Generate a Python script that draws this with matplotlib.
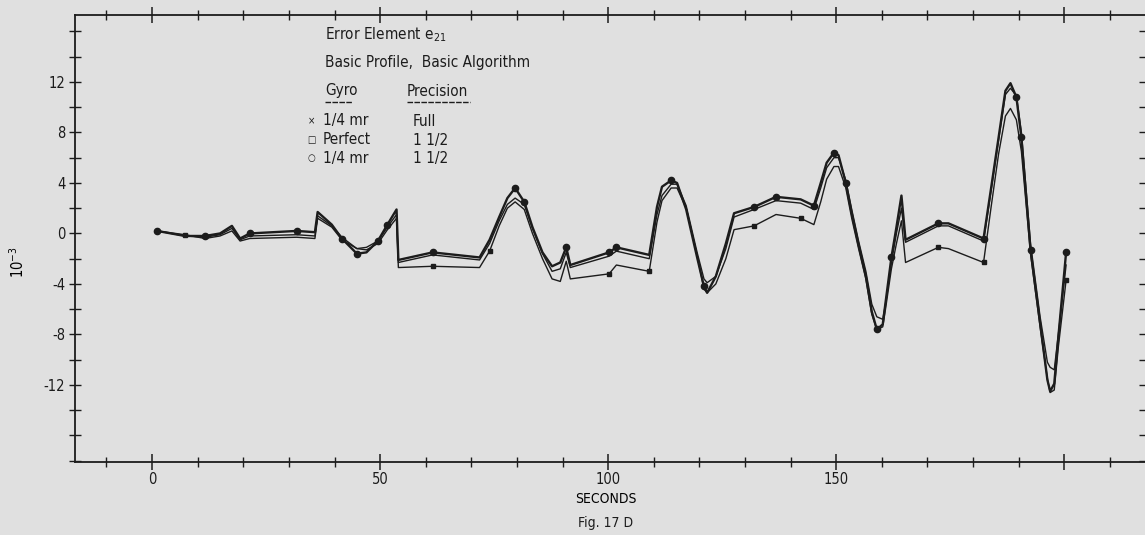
import matplotlib.pyplot as plt
from matplotlib.ticker import MultipleLocator, FixedLocator
from matplotlib.lines import Line2D

# tid (sekunder) och felelement e21 (10^-3)
t = [1.1, 7.2, 11.6, 14.9, 17.5, 19.3, 21.4, 31.7, 35.7, 36.3,
     39.4, 41.6, 44.9, 47.0, 49.5, 51.6, 53.6, 54.0, 61.5, 71.8,
     74.0, 76.1, 77.9, 79.6, 81.6, 83.4, 85.6, 87.7, 89.5, 90.8,
     91.7, 100.2, 101.8, 109.0, 110.7, 111.8, 113.8, 115.1, 117.1, 119.5,
     121.0, 121.7, 123.6, 125.8, 127.6, 132.0, 136.8, 142.2, 145.1, 146.6,
     147.9, 149.5, 150.5, 152.1, 153.4, 154.9, 156.5, 157.8, 158.9, 160.2,
     160.8, 162.1, 163.2, 164.3, 165.2, 172.4, 174.6, 182.3, 184.0, 185.6,
     187.1, 188.2, 189.5, 190.6, 192.6, 194.7, 196.3, 196.9, 197.8, 198.7,
     200.4]

e21_full = [0.2, -0.2, -0.2, 0.0, 0.6, -0.4, 0.0, 0.2, 0.1, 1.7,
            0.7, -0.4, -1.6, -1.5, -0.6, 0.7, 1.9, -2.1, -1.5, -1.9,
            -0.5, 1.3, 2.8, 3.6, 2.5, 0.5, -1.5, -2.6, -2.3, -1.1,
            -2.5, -1.5, -1.1, -1.7, 2.1, 3.7, 4.2, 4.0, 1.9, -1.9,
            -4.2, -4.7, -3.4, -0.8, 1.6, 2.1, 2.9, 2.7, 2.2, 4.0,
            5.6, 6.4, 6.2, 4.0, 1.6, -0.9, -3.4, -6.2, -7.6, -7.2,
            -5.5, -1.9, 0.5, 3.0, -0.5, 0.8, 0.8, -0.4, 3.7, 7.6,
            11.3, 11.9, 10.8, 7.6, -1.3, -7.1, -11.6, -12.5, -11.9, -8.2,
            -1.5]

e21_perfect = [0.2, -0.2, -0.3, -0.1, 0.4, -0.5, -0.2, -0.1, -0.2, 1.4,
               0.6, -0.3, -1.2, -1.1, -0.6, 0.5, 1.5, -2.3, -1.7, -2.1,
               -0.8, 1.0, 2.3, 2.8, 2.3, 0.4, -1.6, -3.0, -2.8, -1.5,
               -2.7, -1.8, -1.4, -2.0, 1.5, 3.0, 3.9, 3.9, 2.2, -1.5,
               -3.6, -3.9, -3.4, -1.2, 1.3, 1.9, 2.6, 2.4, 1.9, 3.6,
               5.2, 6.0, 6.0, 4.2, 1.9, -0.6, -3.0, -5.6, -6.6, -6.8,
               -5.6, -2.3, 0.0, 2.0, -0.7, 0.6, 0.6, -0.6, 3.5, 7.4,
               11.0, 11.5, 10.9, 8.0, -0.8, -6.6, -10.2, -10.6, -10.8, -8.0,
               -2.5]

e21_quarter = [0.2, -0.1, -0.4, -0.2, 0.2, -0.6, -0.4, -0.3, -0.4, 1.2,
               0.5, -0.5, -1.2, -1.3, -0.8, 0.3, 1.2, -2.7, -2.6, -2.7,
               -1.4, 0.6, 2.0, 2.5, 1.9, 0.0, -2.0, -3.6, -3.8, -2.2,
               -3.6, -3.2, -2.5, -3.0, 0.9, 2.6, 3.6, 3.6, 2.0, -1.7,
               -4.4, -4.7, -4.0, -2.0, 0.3, 0.6, 1.5, 1.2, 0.7, 2.5,
               4.3, 5.3, 5.3, 3.6, 1.2, -1.2, -3.6, -6.4, -7.6, -7.4,
               -6.0, -2.8, -0.8, 1.0, -2.3, -1.1, -1.2, -2.3, 2.2, 6.3,
               9.3, 9.9, 9.0, 6.5, -1.6, -7.4, -11.5, -12.6, -12.4, -9.0,
               -3.7]

full_marks = [0, 2, 6, 7, 11, 12, 14, 15, 18, 23, 24, 29, 31, 32, 36, 40,
              45, 46, 48, 51, 53, 58, 61, 65, 67, 72, 73, 74, 80]
quarter_marks = [1, 18, 20, 31, 33, 45, 47, 65, 67, 80]

x_labels = ["0", "50", "100", "150", ""]

plt.rcParams['font.family'] = ['DejaVu Sans']
plt.rcParams['font.stretch'] = 'condensed'
plt.rcParams['axes.unicode_minus'] = False
plt.rcParams['mathtext.fontset'] = 'custom'
plt.rcParams['mathtext.rm'] = 'DejaVu Sans:stretch=condensed'
plt.rcParams['mathtext.it'] = 'DejaVu Sans:stretch=condensed'

bg = '#e0e0e0'
ink = '#1c1c1c'

W, H = 1145, 535
fig = plt.figure(figsize=(W / 100, H / 100), dpi=100, facecolor=bg)
ax = fig.add_axes([75 / W, 1 - 462 / H, 1 - 75 / W, (462 - 15) / H], facecolor=bg)


def fx(px):
    return px / W


def fy(py):
    return 1 - py / H


# Kurvorna
ax.plot(t, e21_quarter, color=ink, linewidth=1.0, marker='s', markersize=3.5,
        markevery=quarter_marks)
ax.plot(t, e21_perfect, color=ink, linewidth=1.0)
ax.plot(t, e21_full, color=ink, linewidth=1.7, marker='o', markersize=4.5,
        markevery=full_marks)

ax.set_xlim(-16.9, 217.7)
ax.set_ylim(-18.1, 17.3)

# Axlar och skalstreck
ax.spines['right'].set_visible(False)
for s in ['left', 'bottom', 'top']:
    ax.spines[s].set_color(ink)
    ax.spines[s].set_linewidth(1.3)

ax.xaxis.set_major_locator(FixedLocator([0, 50, 100, 150, 200]))
ax.set_xticklabels(x_labels)
ax.xaxis.set_minor_locator(MultipleLocator(10))
ax.yaxis.set_major_locator(FixedLocator([-12, -8, -4, 0, 4, 8, 12]))
ax.yaxis.set_minor_locator(MultipleLocator(2))

ax.tick_params(axis='x', which='major', direction='inout', length=12, width=1.1,
               top=True, colors=ink, labelsize=10.5, pad=1)
ax.tick_params(axis='x', which='minor', direction='inout', length=7, width=1.0,
               top=True, colors=ink)
ax.tick_params(axis='y', which='both', direction='inout', length=8, width=1.0,
               right=True, colors=ink, labelsize=10.5, pad=3)

ax.set_xlabel("SECONDS", fontsize=10)
ax.xaxis.set_label_coords((606 - 75) / 1070, (462 - 492) / 447)
ax.set_ylabel("10$^{-3}$", fontsize=10.5)
ax.yaxis.set_label_coords(-0.045, 0.447)

fig.text(fx(606), fy(523), "Fig. 17 D", fontsize=10, ha='center', va='center', color=ink)

# Förklaringstext
fig.text(fx(325), fy(35), "Error Element e$_{21}$", fontsize=11, va='center', color=ink)
fig.text(fx(325), fy(63), "Basic Profile,  Basic Algorithm", fontsize=11, va='center', color=ink)
fig.text(fx(325), fy(91), "Gyro", fontsize=11, va='center', color=ink)
fig.text(fx(407), fy(91), "Precision", fontsize=11, va='center', color=ink)
fig.add_artist(Line2D([fx(325), fx(352)], [fy(102), fy(102)], color=ink, linewidth=1.0,
                      linestyle=(0, (4, 1))))
fig.add_artist(Line2D([fx(407), fx(470)], [fy(102), fy(102)], color=ink, linewidth=1.0,
                      linestyle=(0, (4, 1))))

rows = [("\u00d7", "1/4 mr", "Full", 121),
        ("\u25a1", "Perfect", "1 1/2", 140),
        ("\u25cb", "1/4 mr", "1 1/2", 158)]
for sym, gyro, prec, py in rows:
    fig.text(fx(311), fy(py), sym, fontsize=7, ha='center', va='center', color=ink)
    fig.text(fx(323), fy(py), gyro, fontsize=11, va='center', color=ink)
    fig.text(fx(413), fy(py), prec, fontsize=11, va='center', color=ink)

fig.savefig("out.png", dpi=100, facecolor=bg)
